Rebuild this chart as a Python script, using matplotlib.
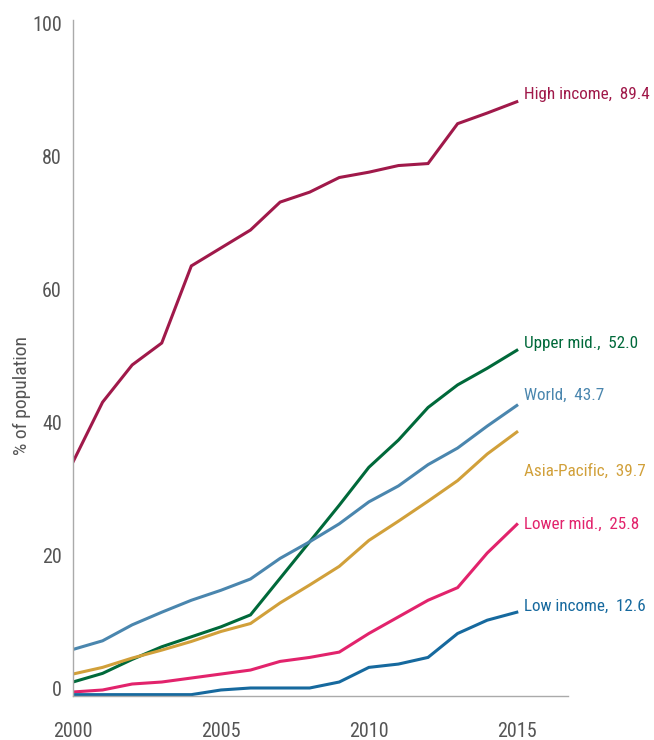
import matplotlib
matplotlib.use("Agg")
import matplotlib.pyplot as plt

plt.rcParams['font.family'] = ['Roboto Condensed', 'DejaVu Sans']

years = list(range(2000, 2016))

high_income = [35.2, 44.2, 49.8, 53.1, 64.7, 67.4, 70.1, 74.3, 75.8, 78.0, 78.8, 79.8, 80.1, 86.1, 87.7, 89.4]
upper_mid = [2.1, 3.4, 5.5, 7.4, 8.9, 10.4, 12.2, 17.7, 23.2, 28.7, 34.4, 38.5, 43.4, 46.8, 49.3, 52.0]
world = [7.0, 8.3, 10.7, 12.6, 14.4, 15.9, 17.6, 20.7, 23.2, 25.9, 29.2, 31.6, 34.8, 37.3, 40.6, 43.7]
asia_pacific = [3.3, 4.3, 5.7, 6.9, 8.2, 9.7, 10.9, 14.0, 16.7, 19.5, 23.4, 26.3, 29.3, 32.4, 36.4, 39.7]
lower_mid = [0.6, 0.9, 1.8, 2.1, 2.7, 3.3, 3.9, 5.2, 5.8, 6.6, 9.4, 11.9, 14.4, 16.3, 21.5, 25.8]
low_income = [0.2, 0.2, 0.2, 0.2, 0.2, 0.9, 1.2, 1.2, 1.2, 2.1, 4.3, 4.8, 5.8, 9.4, 11.4, 12.6]

series = [
    ("High income", high_income, "#A0194A", 5),
    ("Upper mid.", upper_mid, "#00693A", 5),
    ("World", world, "#4A86AE", 7),
    ("Asia-Pacific", asia_pacific, "#D1A03A", -28),
    ("Lower mid.", lower_mid, "#E2236C", 0),
    ("Low income", low_income, "#16699E", 4),
]

fig = plt.figure(figsize=(6.54, 7.40), dpi=100)
ax = fig.add_axes([0.1116, 0.0595, 0.7564, 0.9135])

for name, vals, color, dy in series:
    ax.plot(years, vals, color=color, lw=2.2, solid_joinstyle='miter')
    ax.annotate(f"{name},  {vals[-1]:.1f}", xy=(years[-1], vals[-1]),
                xytext=(5, dy), textcoords='offset points',
                ha='left', va='center', color=color, fontsize=12.3)

ax.set_xlim(2000, 2016.72)
ax.set_ylim(0, 101.7)
ax.set_xticks([2000, 2005, 2010, 2015])
ax.set_yticks([0, 20, 40, 60, 80, 100])
ax.tick_params(length=0, labelsize=14.5, colors='#555555')
ax.tick_params(axis='x', pad=19)
ax.tick_params(axis='y', pad=8)
for lab in ax.get_yticklabels():
    lab.set_va('baseline')
ax.set_ylabel("% of population", fontsize=14, color='#555555')
ax.yaxis.set_label_coords(-0.085, 0.444)

for side in ['top', 'right']:
    ax.spines[side].set_visible(False)
for side in ['left', 'bottom']:
    ax.spines[side].set_color('#AAAAAA')
    ax.spines[side].set_linewidth(1.0)

fig.savefig("out.png", dpi=100)
